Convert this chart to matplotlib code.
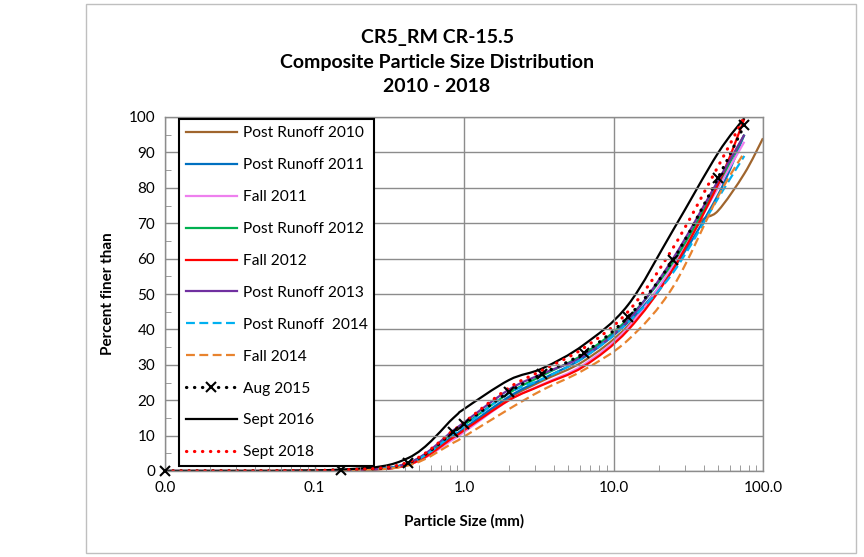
import matplotlib
matplotlib.use("Agg")
import matplotlib.pyplot as plt
import numpy as np
from matplotlib.lines import Line2D
from matplotlib.patches import PathPatch, Rectangle
from matplotlib.path import Path
from matplotlib.ticker import FixedLocator, FixedFormatter, MultipleLocator, LogLocator, NullFormatter

plt.rcParams["font.family"] = ["Lato", "DejaVu Sans"]

# sieve openings (mm); 0.01 stands in for the pan
SIEVES = [0.01, 0.15, 0.425, 0.85, 1.0, 2.0, 3.35, 6.3, 12.5, 25.0, 50.0, 75.0]
SIEVES_2010 = [0.01, 0.15, 0.425, 0.85, 2.0, 3.35, 6.3, 12.5, 25.0, 37.5, 50.0, 75.0, 100.0]

# percent finer than, per survey
post_runoff_2010 = [0, 0.2, 1.8, 9.5, 20.5, 25.5, 31, 41, 57, 70, 73.5, 84, 94]
post_runoff_2011 = [0, 0.2, 2.0, 10.0, 12.0, 21, 26, 32, 42, 57, 78, 95]
fall_2011 = [0, 0.2, 1.8, 9.0, 11.0, 20, 24.5, 30, 40.5, 58, 80, 93]
post_runoff_2012 = [0, 0.2, 2.2, 11.0, 13.0, 22, 27, 33, 43, 59, 81, 95]
fall_2012 = [0, 0.2, 1.8, 9.5, 11.5, 20, 24.3, 29.5, 39.8, 57, 81, 99.5]
post_runoff_2013 = [0, 0.2, 2.3, 11.5, 13.7, 23, 27.5, 32.5, 42.5, 60, 82, 95]
post_runoff_2014 = [0, 0.2, 2.1, 10.5, 12.6, 22, 26, 32, 42, 56, 77, 89]
fall_2014 = [0, 0.2, 1.6, 8.0, 9.7, 17.5, 22.9, 28.5, 37, 52, 77.5, 90]
aug_2015 = [0, 0.3, 2.3, 11.0, 13.3, 22.3, 27.5, 33.3, 43.5, 59.6, 82.8, 97.7]
sept_2016 = [0, 0.4, 3.7, 15.0, 17.5, 25.7, 29, 35.6, 46.9, 68, 89.8, 99.7]
sept_2018 = [0, 0.3, 2.5, 11.5, 13.7, 23.5, 28.5, 34.7, 45, 63, 86, 100]

SERIES = [
    ("Post Runoff 2010", SIEVES_2010, post_runoff_2010, "#A0652D", "-"),
    ("Post Runoff 2011", SIEVES, post_runoff_2011, "#0070C0", "-"),
    ("Fall 2011", SIEVES, fall_2011, "#EE7FEE", "-"),
    ("Post Runoff 2012", SIEVES, post_runoff_2012, "#00B050", "-"),
    ("Fall 2012", SIEVES, fall_2012, "#FF0000", "-"),
    ("Post Runoff 2013", SIEVES, post_runoff_2013, "#7030A0", "-"),
    ("Post Runoff  2014", SIEVES, post_runoff_2014, "#00B0F0", (0, (4, 2))),
    ("Fall 2014", SIEVES, fall_2014, "#E8832E", (0, (4, 2))),
    ("Aug 2015", SIEVES, aug_2015, "black", (0, (0.1, 2.4))),
    ("Sept 2016", SIEVES, sept_2016, "black", "-"),
    ("Sept 2018", SIEVES, sept_2018, "#FF0000", (0, (0.1, 2.4))),
]


def smooth_path(xs, ys):
    """Bezier path through the points, smoothed in log-x space like a spreadsheet 'smoothed line'."""
    pts = np.column_stack([np.log10(xs), ys]).astype(float)
    n = len(pts)
    verts = [pts[0]]
    codes = [Path.MOVETO]
    for i in range(n - 1):
        p0 = pts[max(i - 1, 0)]
        p1 = pts[i]
        p2 = pts[i + 1]
        p3 = pts[min(i + 2, n - 1)]
        verts += [p1 + (p2 - p0) / 6.0, p2 - (p3 - p1) / 6.0, p2]
        codes += [Path.CURVE4] * 3
    verts = np.array(verts)
    verts[:, 0] = 10 ** verts[:, 0]
    return Path(verts, codes)


fig = plt.figure(figsize=(8.64, 5.57), dpi=100)
ax = fig.add_axes([165 / 864, 86 / 557, 598 / 864, 354 / 557])
ax.set_xscale("log")
ax.set_xlim(0.01, 100)
ax.set_ylim(0, 100)

handles = []
for label, xs, ys, color, ls in SERIES:
    dotted = isinstance(ls, tuple) and ls[1][0] < 1
    lw = 2.3 if dotted else 1.6
    patch = PathPatch(smooth_path(xs, ys), facecolor="none", edgecolor=color,
                      lw=lw, linestyle=ls, capstyle="round" if dotted else "butt")
    ax.add_patch(patch)
    marker = None
    if label == "Aug 2015":
        ax.plot(xs, ys, linestyle="none", marker="x", color="black",
                markersize=7, markeredgewidth=1.5, zorder=4, clip_on=False)
        marker = "x"
    handles.append(Line2D([], [], color=color, lw=lw, linestyle=ls,
                          dash_capstyle="round" if dotted else "butt",
                          marker=marker, markersize=7, markeredgewidth=1.5,
                          label=label))

# axes styling
ax.grid(True, which="major", color="#8C8C8C", lw=1.0)
for side in ax.spines.values():
    side.set_color("#8C8C8C")
    side.set_linewidth(1.0)
ax.xaxis.set_major_locator(FixedLocator([0.01, 0.1, 1, 10, 100]))
ax.xaxis.set_major_formatter(FixedFormatter(["0.0", "0.1", "1.0", "10.0", "100.0"]))
ax.xaxis.set_minor_locator(LogLocator(base=10, subs=np.arange(2, 10)))
ax.xaxis.set_minor_formatter(NullFormatter())
ax.yaxis.set_major_locator(MultipleLocator(10))
ax.yaxis.set_minor_locator(MultipleLocator(5))
ax.tick_params(axis="both", which="major", length=0, labelsize=11, pad=7, colors="#8C8C8C",
               labelcolor="black")
ax.tick_params(axis="both", which="minor", direction="in", length=4, color="#8C8C8C")

ax.set_xlabel("Particle Size (mm)", fontsize=11, fontweight="bold", labelpad=14)
ax.set_ylabel("Percent finer than", fontsize=11, fontweight="bold", labelpad=10)

leg = ax.legend(handles=handles, loc="upper left", bbox_to_anchor=(0.023, 0.993),
                fontsize=11.2, handlelength=3.3, handletextpad=0.35, labelspacing=1.15,
                borderaxespad=0, borderpad=0.45, fancybox=False, framealpha=1)
leg.get_frame().set_edgecolor("black")
leg.get_frame().set_linewidth(1.5)

title_lines = ["CR5_RM CR-15.5", "Composite Particle Size Distribution", "2010 - 2018"]
for i, line in enumerate(title_lines):
    fig.text(437 / 864, 1 - (38 + 24.5 * i) / 557, line, ha="center", va="center",
             fontsize=14, fontweight="bold")

# outer chart border
fig.add_artist(Rectangle((86 / 864, 4 / 557), 770 / 864, 549 / 557, transform=fig.transFigure,
                         facecolor="none", edgecolor="#BFBFBF", lw=1.0))

fig.savefig("out.png", dpi=100)
